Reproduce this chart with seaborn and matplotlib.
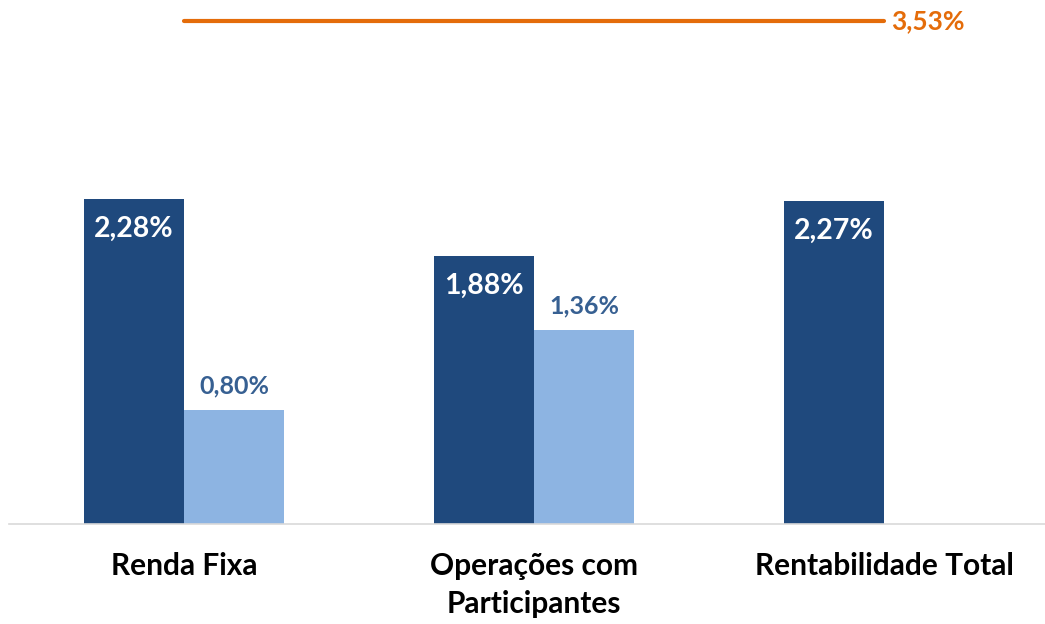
import pandas as pd
import matplotlib.pyplot as plt
import seaborn as sns

categories = ['Renda Fixa', 'Operações com\nParticipantes', 'Rentabilidade Total']
series_a = [2.28, 1.88, 2.27]
series_b = [0.80, 1.36, None]
meta = [3.53, 3.53, 3.53]

dark = '#1F497D'
light = '#8DB4E2'
orange = '#E46C0A'
label_blue = '#376092'

rows = []
for c, a, b in zip(categories, series_a, series_b):
    rows.append({'cat': c, 'serie': 'A', 'valor': a})
    if b is not None:
        rows.append({'cat': c, 'serie': 'B', 'valor': b})
df = pd.DataFrame(rows)

sns.set_theme(style='white')
plt.rcParams['font.family'] = ['Lato', 'DejaVu Sans']

fig = plt.figure(figsize=(10.45, 6.24), dpi=100)
ax = fig.add_axes([9 / 1045, 100 / 624, 1036 / 1045, 524 / 624])

sns.barplot(data=df, x='cat', y='valor', hue='serie', order=categories,
            hue_order=['A', 'B'], palette=[dark, light], width=0.5714,
            saturation=1, legend=False, ax=ax)
for p in ax.patches:
    p.set_edgecolor('none')

sns.lineplot(x=list(range(len(categories))), y=meta, color=orange,
             linewidth=3, ax=ax)
ax.text(len(categories) - 1 + 0.02, meta[-1], f'{meta[-1]:.2f}%'.replace('.', ','),
        color=orange, fontsize=19, fontweight='bold', va='center', ha='left')

for cont, vals, inside in zip(ax.containers, [series_a, series_b], [True, False]):
    for rect, v in zip(cont, vals):
        if v is None or rect.get_height() != rect.get_height():
            continue
        xc = rect.get_x() + rect.get_width() / 2
        txt = f'{v:.2f}%'.replace('.', ',')
        if inside:
            ax.text(xc, v - 0.21, txt, color='white', fontsize=20.5,
                    fontweight='bold', ha='center', va='center')
        else:
            ax.text(xc, v + 0.17, txt, color=label_blue, fontsize=18,
                    fontweight='bold', ha='center', va='center')

ax.set_xlim(-0.5, -0.5 + 1036 / 350)
ax.set_ylim(0, 524 / 142.5)
ax.set_xlabel('')
ax.set_ylabel('')
ax.set_yticks([])
ax.tick_params(axis='x', length=0, pad=20)
ax.set_xticks(range(len(categories)))
ax.set_xticklabels(categories, fontsize=21.5, fontweight='bold', color='black',
                   va='top', linespacing=1.43)
for side in ['top', 'right', 'left']:
    ax.spines[side].set_visible(False)
ax.spines['bottom'].set_color('#D9D9D9')
ax.spines['bottom'].set_linewidth(1.2)

fig.savefig('out.png', dpi=100)
